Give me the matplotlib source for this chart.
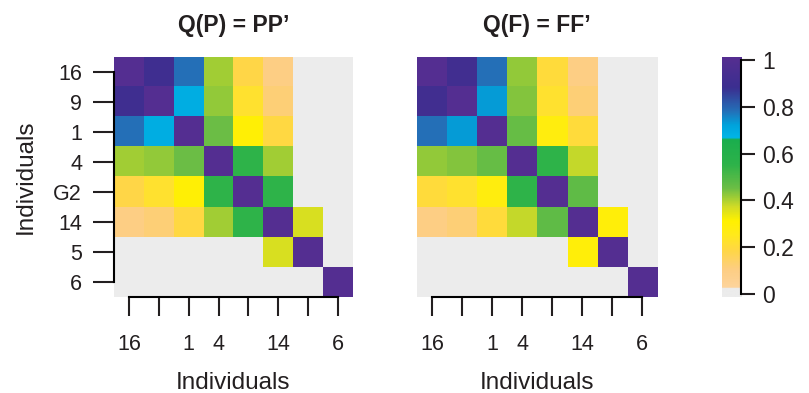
import numpy as np
import matplotlib
matplotlib.use('Agg')
import matplotlib.pyplot as plt
from matplotlib.colors import LinearSegmentedColormap

plt.rcParams['font.family'] = ['Liberation Sans', 'DejaVu Sans']

# individuals, top to bottom / left to right
individuals = ['16', '9', '1', '4', 'G2', '14', '5', '6']
# x tick labels that survive overlap in the original
x_labels = ['16', '', '1', '4', '', '14', '', '6']

# Q(P) = PP'
q_p = [
    [1.00, 0.90, 0.78, 0.41, 0.18, 0.10, 0.00, 0.00],
    [0.90, 1.00, 0.69, 0.42, 0.22, 0.12, 0.00, 0.00],
    [0.78, 0.69, 1.00, 0.45, 0.30, 0.19, 0.00, 0.00],
    [0.41, 0.42, 0.45, 1.00, 0.55, 0.41, 0.00, 0.00],
    [0.18, 0.22, 0.30, 0.55, 1.00, 0.55, 0.00, 0.00],
    [0.10, 0.12, 0.19, 0.41, 0.55, 1.00, 0.36, 0.00],
    [0.00, 0.00, 0.00, 0.00, 0.00, 0.36, 1.00, 0.00],
    [0.00, 0.00, 0.00, 0.00, 0.00, 0.00, 0.00, 1.00],
]

# Q(F) = FF'
q_f = [
    [1.00, 0.91, 0.78, 0.42, 0.20, 0.10, 0.00, 0.00],
    [0.91, 1.00, 0.73, 0.43, 0.22, 0.12, 0.00, 0.00],
    [0.78, 0.73, 1.00, 0.46, 0.28, 0.20, 0.00, 0.00],
    [0.42, 0.43, 0.46, 1.00, 0.55, 0.38, 0.00, 0.00],
    [0.20, 0.22, 0.28, 0.55, 1.00, 0.47, 0.00, 0.00],
    [0.10, 0.12, 0.20, 0.38, 0.47, 1.00, 0.29, 0.00],
    [0.00, 0.00, 0.00, 0.00, 0.00, 0.29, 1.00, 0.00],
    [0.00, 0.00, 0.00, 0.00, 0.00, 0.00, 0.00, 1.00],
]

cbar_ticks = [0, 0.2, 0.4, 0.6, 0.8, 1]
cbar_labels = ['0', '0.2', '0.4', '0.6', '0.8', '1']

# colour scale
cmap = LinearSegmentedColormap.from_list('q', [
    (0.0, '#ececec'), (0.02, '#ececec'), (0.025, '#fdd49c'),
    (0.10, '#fdce84'), (0.18, '#ffd648'), (0.25, '#ffea1c'),
    (0.31, '#fff100'), (0.37, '#d2dc26'), (0.45, '#6cbe45'),
    (0.55, '#2eb34a'), (0.66, '#1aae4e'), (0.665, '#00b6e8'),
    (0.72, '#00a3dc'), (0.78, '#2470b8'), (0.88, '#3b2f90'),
    (1.0, '#542e91'),
])

ink = '#231f20'
fig = plt.figure(figsize=(8.09, 3.93), dpi=100)


def heat(rect, mat, title, show_y):
    ax = fig.add_axes(rect)
    n = len(individuals)
    ax.imshow(np.array(mat), cmap=cmap, vmin=0, vmax=1, aspect='auto',
              extent=(0.5, n + 0.5, n + 0.5, 0.5), interpolation='nearest')
    ax.set_xlim(0.5, n + 0.5)
    ax.set_ylim(n + 0.5, 0.5)
    pos = np.arange(1, n + 1)
    for s in ['top', 'right']:
        ax.spines[s].set_visible(False)
    ax.spines['bottom'].set_bounds(1, n)
    ax.spines['bottom'].set_linewidth(1.5)
    ax.set_xticks(pos)
    ax.set_xticklabels(x_labels)
    ax.tick_params(axis='x', length=14, width=1.5, pad=13, labelsize=15.5,
                   colors=ink)
    if show_y:
        ax.spines['left'].set_bounds(1, n)
        ax.spines['left'].set_linewidth(1.5)
        ax.set_yticks(pos)
        ax.set_yticklabels(individuals)
        ax.tick_params(axis='y', length=15, width=1.5, pad=8, labelsize=15.5,
                       colors=ink)
        ax.set_ylabel('Individuals', fontsize=17.5, color=ink, labelpad=12)
    else:
        ax.spines['left'].set_visible(False)
        ax.set_yticks([])
    ax.set_xlabel('Individuals', fontsize=17.5, color=ink, labelpad=12)
    ax.set_title(title, fontsize=16.5, fontweight='bold', color=ink, pad=18)
    return ax


heat([0.1409, 0.2443, 0.2954, 0.6107], q_p, 'Q(P) = PP’', True)
heat([0.5155, 0.2443, 0.2967, 0.6107], q_f, 'Q(F) = FF’', False)

# colour bar
cax = fig.add_axes([0.8925, 0.2443, 0.0235, 0.6107])
ext = 0.0128
grad = np.linspace(1 + ext, -ext, 400).reshape(-1, 1)
cax.imshow(np.clip(grad, 0, 1), cmap=cmap, vmin=0, vmax=1, aspect='auto',
           extent=(0, 1, -ext, 1 + ext))
cax.set_xlim(0, 1)
cax.set_ylim(-ext, 1 + ext)
cax.set_xticks([])
for s in ['top', 'left', 'bottom']:
    cax.spines[s].set_visible(False)
cax.spines['right'].set_bounds(0, 1)
cax.spines['right'].set_linewidth(1.5)
cax.yaxis.tick_right()
cax.set_yticks(cbar_ticks)
cax.set_yticklabels(cbar_labels)
cax.tick_params(axis='y', length=10, width=1.5, pad=5, labelsize=16.5,
                colors=ink)

fig.savefig('out.png', dpi=100)
